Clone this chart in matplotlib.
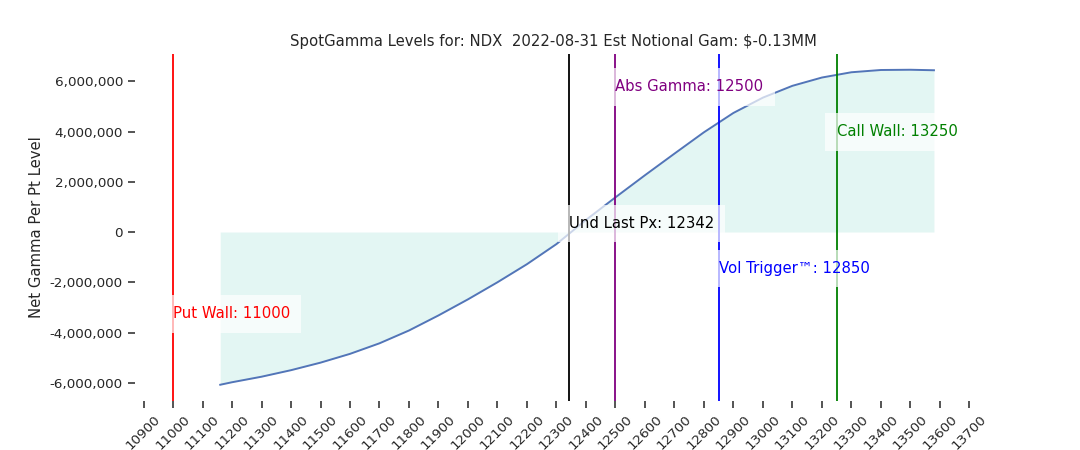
import matplotlib
matplotlib.use("Agg")
import matplotlib.pyplot as plt
import matplotlib.ticker as mticker
import matplotlib.transforms as mtransforms

# strike levels and estimated net gamma (per point)
strikes = [11160, 11200, 11300, 11400, 11500, 11600, 11700, 11800, 11900,
           12000, 12100, 12200, 12300, 12400, 12500, 12600, 12700, 12800,
           12900, 13000, 13100, 13200, 13300, 13400, 13500, 13580]
net_gamma = [-6080000, -5980000, -5760000, -5500000, -5200000, -4850000,
             -4430000, -3920000, -3320000, -2680000, -2000000, -1280000,
             -480000, 480000, 1380000, 2260000, 3120000, 3970000, 4740000,
             5350000, 5820000, 6150000, 6360000, 6450000, 6460000, 6440000]

levels = [11000, 12342, 12500, 12850, 13250]
level_names = ["Put Wall", "Und Last Px", "Abs Gamma", "Vol Trigger\u2122", "Call Wall"]
level_colors = ["red", "black", "purple", "blue", "green"]
label_y = [0.25, 0.51, 0.905, 0.38, 0.775]  # axes fraction for each label

xticks = list(range(10900, 13800, 100))
title = "SpotGamma Levels for: NDX  2022-08-31 Est Notional Gam: $-0.13MM"

dark = "#262626"
plt.rcParams["font.family"] = ["DejaVu Sans"]
plt.rcParams["text.color"] = dark
plt.rcParams["axes.labelcolor"] = dark
plt.rcParams["xtick.color"] = dark
plt.rcParams["ytick.color"] = dark

fig, ax = plt.subplots(figsize=(10.8, 4.5), dpi=100)

ax.fill_between(strikes, 0, net_gamma, color="#e3f6f3", linewidth=0, zorder=1)
ax.plot(strikes, net_gamma, color="#5275b8", linewidth=1.4, zorder=2)

trans = mtransforms.blended_transform_factory(ax.transData, ax.transAxes)
for lvl, name, col, ly in zip(levels, level_names, level_colors, label_y):
    ax.axvline(lvl, color=col, linewidth=1.3, zorder=3)
    ax.text(lvl, ly, f"{name}: {lvl}", color=col, fontsize=10.7,
            ha="left", va="center", transform=trans, zorder=4,
            bbox=dict(facecolor="white", alpha=0.7, edgecolor="none", pad=8))

ax.set_xticks(xticks)
ax.tick_params(axis="x", labelrotation=45)
ax.tick_params(labelsize=9.7, length=5.2, width=1.1)
ax.yaxis.set_major_formatter(mticker.FuncFormatter(lambda v, p: f"{v:,.0f}"))
ax.set_ylabel("Net Gamma Per Pt Level", fontsize=10.7)
ax.set_title(title, fontsize=10.7)
for s in ax.spines.values():
    s.set_visible(False)

fig.savefig("out.png", dpi=100)
